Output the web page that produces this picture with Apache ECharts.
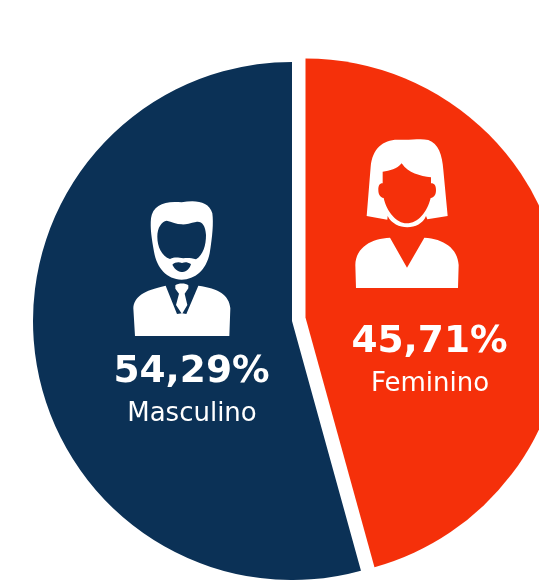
<!DOCTYPE html>
<html><head><meta charset="utf-8">
<style>html,body{margin:0;padding:0;background:#fff}#c{width:539px;height:580px}</style>
<script src="https://cdn.jsdelivr.net/npm/echarts@6/dist/echarts.min.js"></script>
</head><body><div id="c"></div>
<script>
const categories = ['Feminino', 'Masculino'];
const shares = [45.71, 54.29];
const colors = ['#F5300A', '#0B3156'];
const fmt = v => v.toFixed(2).replace('.', ',') + '%';

const maleHair = 'M93,85C98,45 135,31 185,37C225,29 267,33 277,70C281,100 277,140 269,190C259,240 225,269 185,269C140,267 111,235 102,185C95,145 90,115 93,85Z' +
  'M140,92C125,95 112,112 112,140C112,170 125,198 150,207C165,200 175,203 190,205C205,203 215,205 228,208C250,195 258,165 258,135C256,105 245,93 228,96C210,100 195,104 185,103C170,103 155,95 140,92Z' +
  'M157,224C165,240 178,246 188,246C200,245 210,235 213,222C200,215 195,216 186,219C175,215 165,217 157,224Z';
const maleBody = 'M40,355C42,320 70,302 137,287L171,372L186,370L199,372L235,287C295,295 328,315 331,355L328,438L45,438Z';
const maleTie = 'M166,286C175,279 197,279 205,286L205,295L194,311L202,345L186,372L168,345L177,311L166,296Z';

const femaleHair = 'M80,258L92,110C97,55 130,28 175,29C215,31 240,25 265,30C295,40 307,75 310,120L323,258L262,268L258,258C240,303 165,303 143,258L142,269Z' +
  'M128,125L128,160C118,160 115,168 115,180C115,193 120,202 131,204C140,245 170,280 200,280C235,280 262,245 272,204C284,202 288,193 288,180C288,168 284,160 273,160L273,142C240,138 205,130 185,100C170,118 150,122 128,125Z';
const femaleBody = 'M46,405C48,350 95,326 150,323L201,413L253,323C310,326 354,355 356,405L354,474L48,474Z';

const paths = { maleHair, maleBody, maleTie, femaleHair, femaleBody };
Object.keys(paths).forEach(k => echarts.graphic.registerShape(k, echarts.graphic.extendPath(paths[k], {})));

function icon(name, x, y) {
  return { type: name, x: x, y: y, scaleX: 1/3, scaleY: 1/3, silent: true, z: 10, style: { fill: '#fff' } };
}
function text(t, cx, cy, size, weight) {
  return { type: 'text', x: cx, y: cy, silent: true, z: 10,
    style: { text: t, fill: '#fff', align: 'center', verticalAlign: 'middle',
      font: weight + ' ' + size + 'px "DejaVu Sans"' } };
}
function slice(i, center, startAngle) {
  return {
    type: 'pie', radius: [0, 259], center: center, startAngle: startAngle, clockwise: true,
    silent: true, label: { show: false }, labelLine: { show: false }, animation: false,
    data: [
      { name: categories[i], value: shares[i], itemStyle: { color: colors[i] } },
      { name: '', value: shares[1 - i], itemStyle: { color: 'transparent' } }
    ]
  };
}
const chart = echarts.init(document.getElementById('c'), null, { renderer: 'canvas' });
chart.setOption({
  animation: false,
  backgroundColor: '#fff',
  series: [
    slice(0, [305.5, 317.5], 90),
    slice(1, [292, 321], 90 - shares[0] / 100 * 360)
  ],
  graphic: [
    icon('maleHair', 120, 190), icon('maleBody', 120, 190), icon('maleTie', 120, 190),
    icon('femaleHair', 340, 130), icon('femaleBody', 340, 130),
    text(fmt(shares[1]), 191.5, 372, 37.5, 'bold'),
    text(categories[1], 192, 414, 26, 'normal'),
    text(fmt(shares[0]), 429.5, 342, 37.5, 'bold'),
    text(categories[0], 430, 384, 26, 'normal')
  ]
});
</script></body></html>
